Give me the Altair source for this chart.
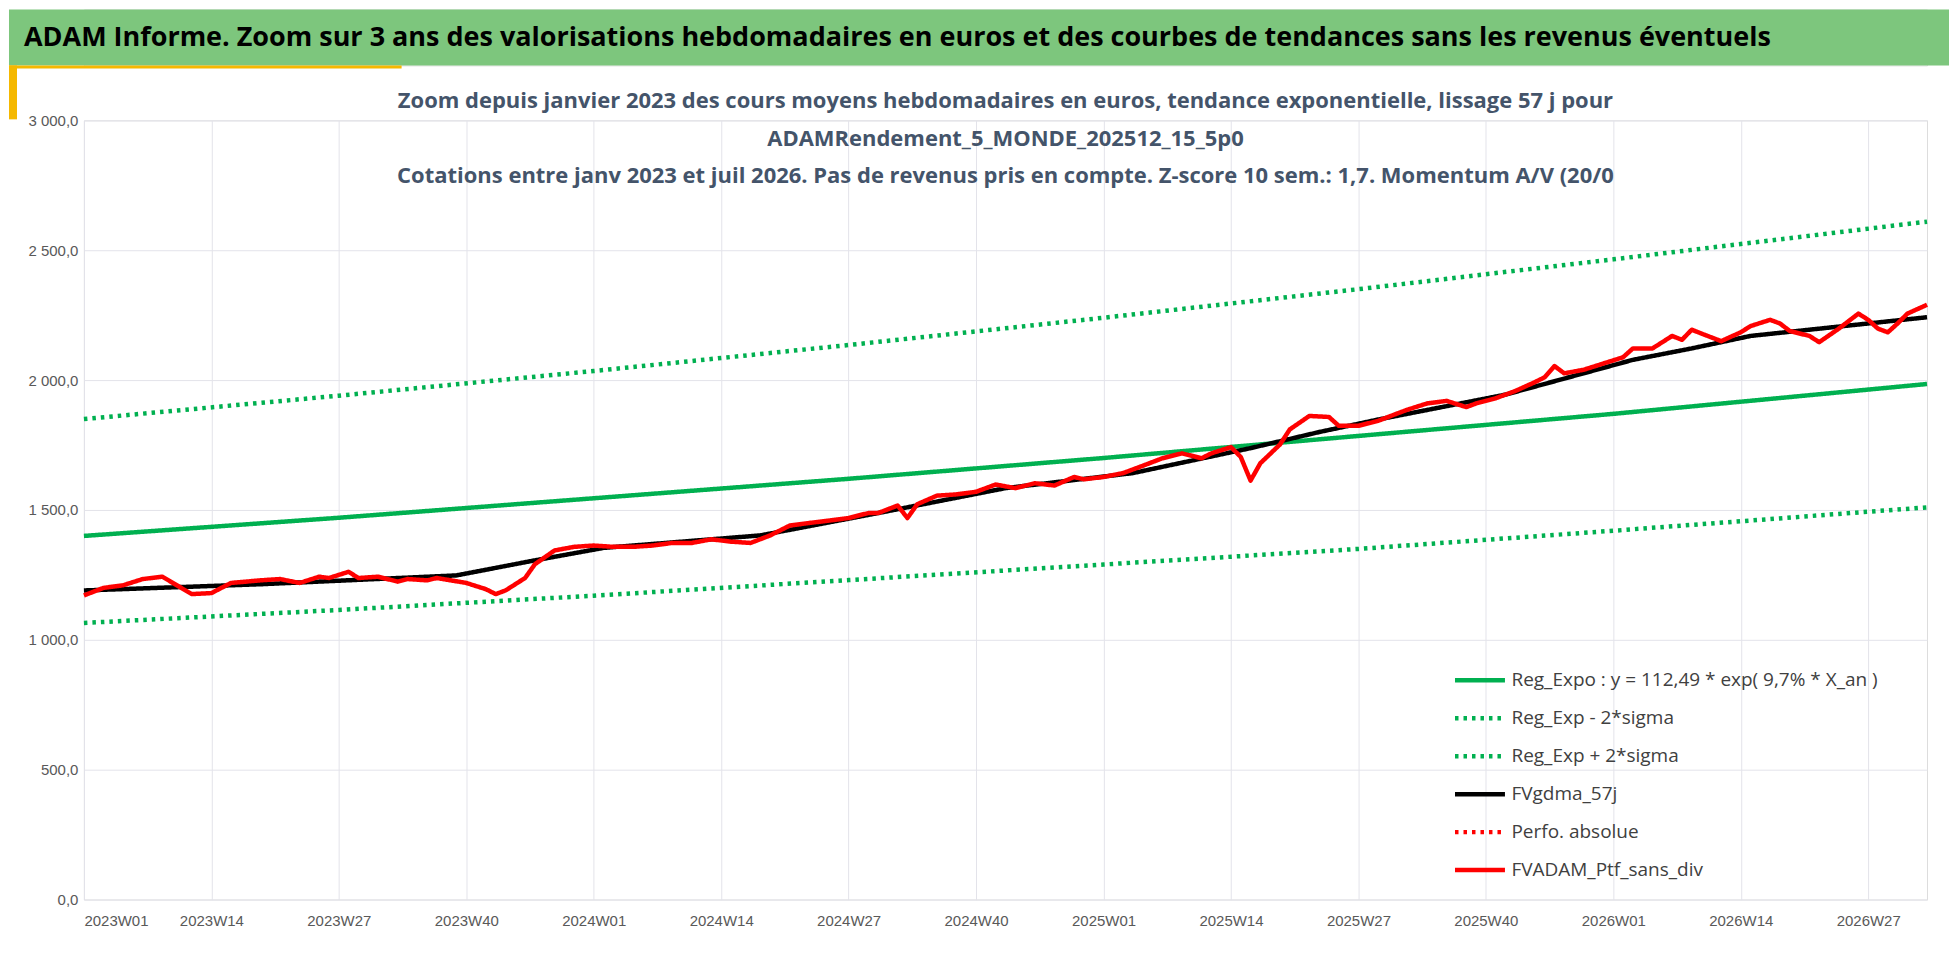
import altair as alt
import pandas as pd

banner_title = "ADAM Informe. Zoom sur 3 ans des valorisations hebdomadaires en euros et des courbes de tendances sans les revenus éventuels"
sub_lines = ["Zoom depuis janvier 2023 des cours moyens hebdomadaires  en euros, tendance exponentielle, lissage 57 j pour",
             "ADAMRendement_5_MONDE_202512_15_5p0",
             "Cotations  entre janv 2023 et juil 2026. Pas de revenus pris en compte. Z-score 10 sem.: 1,7. Momentum A/V (20/0"]

week_labels = ["2023W01","2023W14","2023W27","2023W40","2024W01","2024W14","2024W27","2024W40",
               "2025W01","2025W14","2025W27","2025W40","2026W01","2026W14","2026W27"]

trend_idx = [0, 26, 52, 78, 104, 130, 156, 188]
reg_expo = [1400, 1470, 1545, 1620, 1700, 1785, 1870, 1985]
reg_minus = [1065, 1115, 1170, 1230, 1290, 1350, 1420, 1510]
reg_plus = [1850, 1940, 2035, 2135, 2240, 2350, 2465, 2610]

red_idx = [0,2,4,6,8,11,13,15,18,20,22,24,25,27,28,30,32,33,35,36,39,41,42,43,45,46,48,50,52,54,56,58,60,62,64,66,68,70,72,74,76,78,80,81,83,84,85,87,89,91,93,95,97,99,101,102,104,106,108,110,112,114,115,117,118,119,120,122,123,125,127,128,130,132,134,135,137,139,141,142,144,146,148,149,150,151,153,155,157,158,160,162,163,164,165,167,169,170,172,173,174,176,177,179,181,182,183,184,185,186,188]
red_val = [1171,1200,1210,1234,1243,1176,1180,1219,1229,1234,1219,1243,1238,1262,1238,1243,1224,1234,1229,1238,1219,1195,1176,1190,1238,1291,1344,1358,1363,1358,1358,1363,1373,1373,1387,1378,1373,1402,1440,1450,1459,1469,1488,1488,1517,1469,1522,1555,1560,1570,1598,1584,1603,1594,1627,1618,1627,1642,1670,1699,1718,1699,1718,1742,1704,1613,1680,1752,1810,1862,1858,1824,1824,1843,1872,1886,1910,1920,1896,1910,1930,1958,1992,2011,2054,2026,2040,2064,2088,2122,2122,2170,2155,2194,2179,2150,2184,2208,2232,2218,2189,2170,2146,2198,2256,2232,2198,2184,2218,2256,2290]

blk_idx = [0,18,38,46,53,69,81,94,107,119,126,132,145,158,164,170,177,188]
blk_val = [1190,1214,1248,1306,1354,1402,1488,1584,1642,1738,1800,1848,1944,2078,2122,2170,2198,2242]

names = ["Reg_Expo : y = 112,49 * exp( 9,7% *  X_an )", "Reg_Exp - 2*sigma", "Reg_Exp + 2*sigma",
         "FVgdma_57j", "Perfo. absolue", "FVADAM_Ptf_sans_div"]
colors = ["#00B050", "#00B050", "#00B050", "#000000", "#FF0000", "#FF0000"]
dashes = [[1, 0], [3.5, 5], [3.5, 5], [1, 0], [3.5, 5], [1, 0]]

rows = []
for i, v in zip(trend_idx, reg_expo): rows.append((i, v, names[0]))
for i, v in zip(trend_idx, reg_minus): rows.append((i, v, names[1]))
for i, v in zip(trend_idx, reg_plus): rows.append((i, v, names[2]))
for i, v in zip(blk_idx, blk_val): rows.append((i, v, names[3]))
for i, v in zip(red_idx, red_val): rows.append((i, v, names[5]))
df = pd.DataFrame(rows, columns=["w", "v", "s"])

W, H = 1845, 780
lbl_expr = "['" + "','".join(week_labels) + "'][datum.value/13]"

lines = alt.Chart(df).mark_line(strokeWidth=4.5, strokeCap="butt", strokeJoin="round", clip=False).encode(
    x=alt.X("w:Q", scale=alt.Scale(domain=[0, 188], nice=False, zero=False),
            axis=alt.Axis(values=list(range(0, 183, 13)), labelExpr=lbl_expr, title=None,
                          grid=True, gridColor="#e3e3ea", domain=False, ticks=False,
                          labelFontSize=15, labelColor="#595959", labelPadding=14, labelFont="Liberation Sans")),
    y=alt.Y("v:Q", scale=alt.Scale(domain=[0, 3000], nice=False),
            axis=alt.Axis(values=[0, 500, 1000, 1500, 2000, 2500, 3000], title=None,
                          labelExpr="replace(replace(format(datum.value, ',.1f'), ',', ' '), '.', ',')",
                          grid=True, gridColor="#e3e3ea", domain=False, ticks=False,
                          labelFontSize=15, labelColor="#595959", labelPadding=6, labelFont="Liberation Sans")),
    color=alt.Color("s:N", scale=alt.Scale(domain=names, range=colors),
                    legend=alt.Legend(title=None, orient="none", legendX=1370, legendY=644,
                                      symbolType="stroke", symbolSize=2500, symbolStrokeWidth=4.5,
                                      labelFontSize=19, labelColor="#404040", labelFont="Open Sans",
                                      rowPadding=-14, labelLimit=600)),
    strokeDash=alt.StrokeDash("s:N", scale=alt.Scale(domain=names, range=dashes), legend=None),
    order="w:Q",
)

tdf = pd.DataFrame({"t": sub_lines, "k": [0, 1, 2]})
texts = alt.Chart(tdf).mark_text(fontSize=22, fontWeight="bold", color="#44546A", font="Open Sans").encode(
    x=alt.value(W / 2), y=alt.Y("k:O", axis=None, scale=alt.Scale(range=[-19, 56], padding=0)),
    text="t:N")

main = alt.layer(lines, texts).resolve_scale(y="independent").properties(width=W, height=H)

bdf = pd.DataFrame({"t": [banner_title]})
banner_rect = alt.Chart(bdf).mark_rect(color="#7DC67D").encode(
    x=alt.value(-75), x2=alt.value(W + 22), y=alt.value(0), y2=alt.value(56))
yellow_h = alt.Chart(bdf).mark_rect(color="#F5B800", clip=False).encode(
    x=alt.value(-75), x2=alt.value(318), y=alt.value(56), y2=alt.value(59))
yellow_v = alt.Chart(bdf).mark_rect(color="#F5B800", clip=False).encode(
    x=alt.value(-75), x2=alt.value(-67), y=alt.value(56), y2=alt.value(110))
banner_txt = alt.Chart(bdf).mark_text(align="left", baseline="middle", fontSize=27, fontWeight="bold",
                                      color="#000000", font="Open Sans").encode(
    x=alt.value(-60), y=alt.value(29), text="t:N")
banner = alt.layer(banner_rect, yellow_h, yellow_v, banner_txt).properties(width=W, height=56)

chart = alt.vconcat(banner, main, spacing=55, bounds="flush").configure_view(stroke=None).configure(padding={"left": 0, "top": 0, "right": 0, "bottom": 0})
chart.save("out.html", embed_options={"renderer": "svg", "actions": False})
